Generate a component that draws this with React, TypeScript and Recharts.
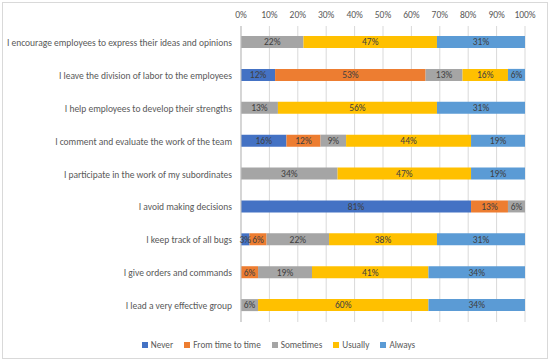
import React from 'react'
import { Bar, BarChart, CartesianGrid, LabelList, Legend, XAxis, YAxis } from 'recharts'

const statements = [
  'I encourage employees to express their ideas and opinions',
  'I leave the division of labor to the employees',
  'I help employees to develop their strengths',
  'I comment and evaluate the work of the team',
  'I participate in the work of my subordinates',
  'I avoid making decisions',
  'I keep track of all bugs',
  'I give orders and commands',
  'I lead a very effective group',
]

const never = [0, 12, 0, 16, 0, 81, 3, 0, 0]
const fromTimeToTime = [0, 53, 0, 12, 0, 13, 6, 6, 0]
const sometimes = [22, 13, 13, 9, 34, 6, 22, 19, 6]
const usually = [47, 16, 56, 44, 47, 0, 38, 41, 60]
const always = [31, 6, 31, 19, 19, 0, 31, 34, 34]

const percentTicks = [0, 10, 20, 30, 40, 50, 60, 70, 80, 90, 100]

const series = [
  { key: 'never', name: 'Never', color: '#4472C4' },
  { key: 'fromTime', name: 'From time to time', color: '#ED7D31' },
  { key: 'sometimes', name: 'Sometimes', color: '#A5A5A5' },
  { key: 'usually', name: 'Usually', color: '#FFC000' },
  { key: 'always', name: 'Always', color: '#5B9BD5' },
]

const data = statements.map((s, i) => ({
  statement: s,
  never: never[i],
  fromTime: fromTimeToTime[i],
  sometimes: sometimes[i],
  usually: usually[i],
  always: always[i],
}))

const font = 'Carlito, Lato, sans-serif'

// plain text tick so long statements stay on one line
const StatementTick = (props: any) => {
  const { x, y, payload } = props
  return (
    <text x={x} y={y} dy={3.5} textAnchor="end" fill="#595959" fontSize={9.5} fontFamily={font}>
      {payload.value}
    </text>
  )
}

const LegendRow = () => (
  <div
    style={{
      display: 'flex',
      justifyContent: 'center',
      gap: 11,
      fontSize: 9.2,
      fontFamily: font,
      color: '#595959',
      paddingLeft: 32,
    }}
  >
    {series.map((s) => (
      <span key={s.key} style={{ display: 'flex', alignItems: 'center' }}>
        <span style={{ display: 'inline-block', width: 6, height: 6, background: s.color, marginRight: 3 }} />
        {s.name}
      </span>
    ))}
  </div>
)

export default function App() {
  return (
    <div style={{ position: 'absolute', left: 0, top: 0, width: 550, height: 361, background: '#fff' }}>
      <div
        style={{
          position: 'absolute',
          left: 2,
          top: 2,
          width: 544,
          height: 355,
          border: '1px solid #d9d9d9',
        }}
      />
      <BarChart
        width={550}
        height={361}
        data={data}
        layout="vertical"
        margin={{ top: 6, right: 25, left: 0, bottom: 19 }}
        barSize={12}
        style={{ fontFamily: font }}
      >
        <CartesianGrid horizontal={false} stroke="#d9d9d9" />
        <XAxis
          type="number"
          orientation="top"
          domain={[0, 100]}
          ticks={percentTicks}
          tickFormatter={(v) => `${v}%`}
          height={20}
          axisLine={false}
          tickLine={false}
          tickSize={0}
          tickMargin={8}
          tick={{ fill: '#595959', fontSize: 9.5 }}
          interval={0}
        />
        <YAxis
          type="category"
          dataKey="statement"
          width={241}
          axisLine={{ stroke: '#bfbfbf' }}
          tickLine={false}
          tickSize={0}
          tickMargin={9}
          tick={<StatementTick />}
          interval={0}
        />
        <Legend verticalAlign="bottom" height={20} wrapperStyle={{ bottom: 2 }} content={() => <LegendRow />} />
        {series.map((s) => (
          <Bar key={s.key} dataKey={s.key} name={s.name} stackId="a" fill={s.color} isAnimationActive={false}>
            <LabelList
              dataKey={s.key}
              position="center"
              fill="#404040"
              fontSize={9.5}
              formatter={(v: any) => (v ? `${v}%` : '')}
            />
          </Bar>
        ))}
      </BarChart>
    </div>
  )
}
